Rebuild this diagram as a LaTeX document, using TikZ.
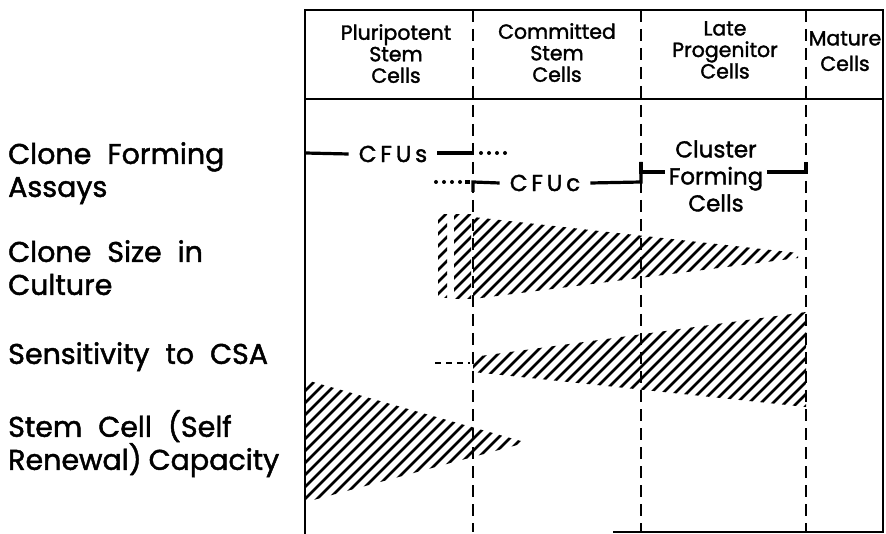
\documentclass[tikz,border=0pt]{standalone}
\usepackage{fontspec}
\setmainfont{Poppins}[FakeBold=1.6]
\newfontfamily\labelfont{Poppins}[FakeBold=1.6,WordSpace=2.1]
\usetikzlibrary{calc}

% hatch a closed region with 45 degree strokes
\newcommand{\hatchin}[1]{%
  \begin{scope}
    \clip #1;
    \foreach \c in {-300,-288,...,900}
      \draw[hatchline] (\c,600) -- ++(600,-600);
  \end{scope}}

\begin{document}
\begin{tikzpicture}[x=1pt,y=-1pt,line join=miter,
  frame/.style={line width=2.4pt},
  divider/.style={line width=2.6pt,dash pattern=on 12pt off 7pt},
  assay/.style={line width=3.2pt},
  dotline/.style={line width=4pt,line cap=round,dash pattern=on 0pt off 8pt},
  hatchline/.style={line width=2.7pt},
  head/.style={align=center,anchor=north,inner sep=0pt,
    font=\fontsize{20.5}{21.5}\selectfont},
  rowlabel/.style={align=left,anchor=north west,inner sep=0pt,
    font=\labelfont\fontsize{28.5}{33}\selectfont},
  assaytext/.style={inner sep=0pt,font=\fontsize{23}{27}\selectfont}]
  \useasboundingbox (0,0) rectangle (886,534);

  % frame of the table
  \coordinate (tl) at (305,10);
  \coordinate (tr) at (883,10);
  \coordinate (hl) at (305,99);
  \coordinate (hr) at (883,99);
  \coordinate (bl) at (305,534);
  \coordinate (br) at (883,532);
  \coordinate (bm) at (613,532);
  \draw[frame] (bl) -- (tl) -- (tr) -- (br) -- (bm);
  \draw[frame] (hl) -- (hr);

  % stage dividers
  \foreach \x/\n in {473/da,641/db,806/dc}{
    \coordinate (\n top) at (\x,10);
    \coordinate (\n bot) at (\x,532);
    \draw[divider] (\n top) -- (\n bot);
  }

  % column heads
  \node[head] (plurip) at (396,24) {Pluripotent\\Stem\\Cells};
  \node[head] (commit) at (557,23) {Committed\\Stem\\Cells};
  \node[head] (late) at (725,21) {Late\\Progenitor\\Cells};
  \node[head] (mature) at (845,31) {Mature\\[4pt]Cells};

  % row labels
  \node[rowlabel] (assays) at (8,142) {Clone Forming\\Assays};
  \node[rowlabel] (size) at (8,240) {Clone Size in\\Culture};
  \node[rowlabel] (csa) at (8,342) {Sensitivity to CSA};
  \node[rowlabel] (renew) at (8,410) {Stem Cell (Self\\Renewal)\hspace{7pt}Capacity};

  % clone forming assays
  \node[assaytext] (cfus) at (393,154) {C\,F\,U\,s};
  \node[assaytext] (cfuc) at (545,183) {C\,F\,U\,c};
  \node[assaytext,align=center] (cluster) at (716,176) {Cluster\\Forming\\Cells};
  \coordinate (s0) at (305,153);
  \coordinate (s1) at (473,153);
  \coordinate (s2) at (507,153);
  \draw[assay] (s0) -- ($(cfus.west)+(-10,0)$);
  \draw[assay] ($(cfus.east)+(10,-1)$) -- (s1);
  \draw[dotline] ($(s1)+(8,0)$) -- (s2);
  \coordinate (c0) at (436,182);
  \coordinate (c1) at (473,182);
  \coordinate (c2) at (641,182);
  \coordinate (c3) at (641,162);
  \coordinate (c4) at (806,162);
  \draw[dotline] (c0) -- ($(c1)+(-13,0)$);
  \draw[assay] ($(c1)+(-8,0)$) -- ($(c1)+(-3,0)$);
  \draw[assay] ($(c1)+(0,10)$) -- (c1) -- ($(cfuc.west)+(-10,0)$);
  \draw[assay] ($(cfuc.east)+(10,0)$) -- (c2) -- (c3);
  \draw[assay] (c3) -- ($(c3)+(0,10)$) -- ($(cluster.west)+(-4,-4)$);
  \draw[assay] ($(cluster.east)+(4,-4)$) -- ($(c4)+(0,10)$) -- (c4);

  % clone size in culture
  \hatchin{(438,215) rectangle (447,298)}
  \hatchin{(454,215) rectangle (471,299)}
  \hatchin{(473,217) -- (798,253) -- (798,258) -- (473,299) -- cycle}

  % sensitivity to CSA
  \coordinate (k0) at (435,363);
  \coordinate (k1) at (470,363);
  \draw[line width=2pt,dash pattern=on 6pt off 5pt] (k0) -- (k1);
  \hatchin{(473,357) -- (806,312) -- (806,407) -- (473,372) -- cycle}

  % self renewal capacity
  \hatchin{(306,380) -- (521,441) -- (521,444) -- (306,502) -- cycle}
\end{tikzpicture}
\end{document}
